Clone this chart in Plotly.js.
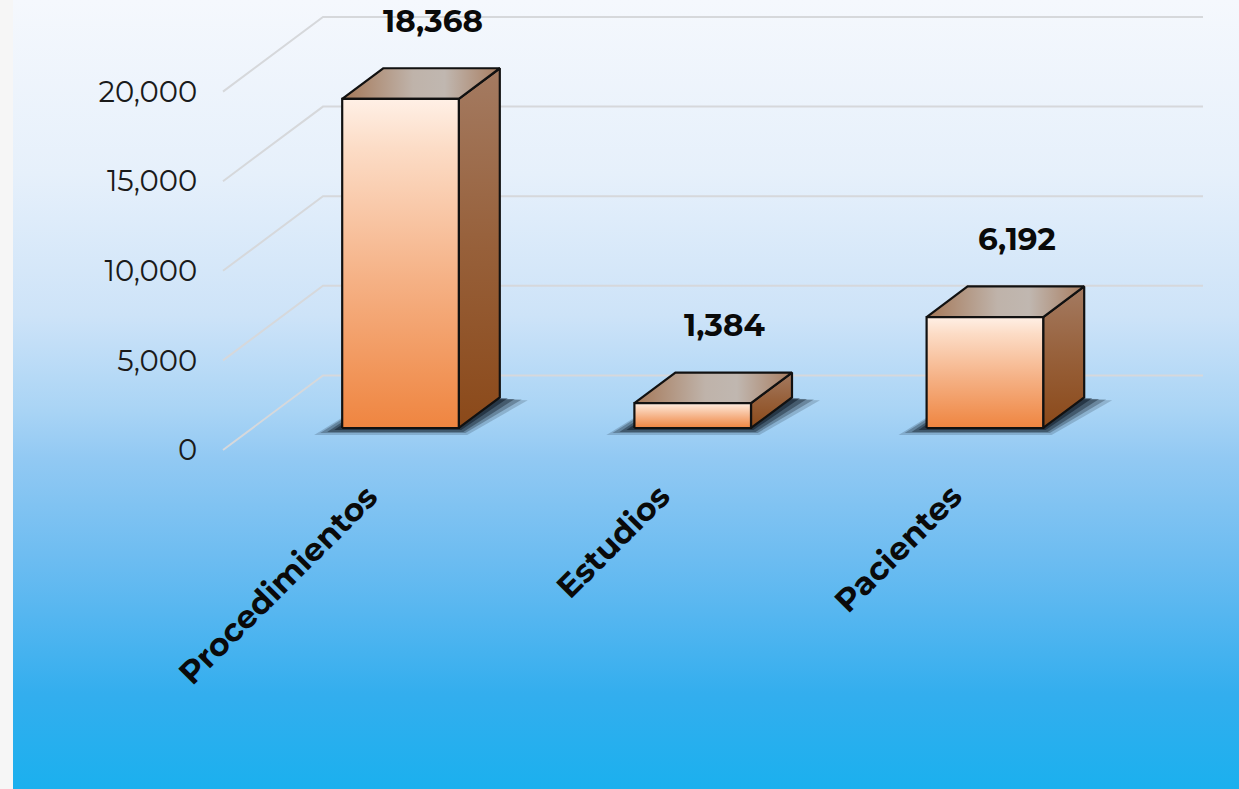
<!DOCTYPE html>
<html>
<head>
<meta charset="utf-8">
<script src="https://cdn.plot.ly/plotly-3.0.1.min.js"></script>
<style>
  html, body { margin:0; padding:0; background:#f6f6f6; width:1239px; height:789px; overflow:hidden; }
  #bg { position:absolute; left:13px; top:0; width:1226px; height:789px;
        background: linear-gradient(to bottom, #f5f8fd 0%, #e6f0fb 22%, #cde3f8 40%, #a9d4f5 52%, #92c9f3 58%, #6fbdf1 70%, #55b6f0 78%, #33aeee 88%, #1bb0ee 100%); }
  #chart { position:absolute; left:0; top:0; width:1239px; height:789px; }
</style>
</head>
<body>
<div id="bg"></div>
<div id="chart"></div>
<script>
// ---- data ----
const categories = ['Procedimientos', 'Estudios', 'Pacientes'];
const values = [18368, 1384, 6192];
const valueLabels = ['18,368', '1,384', '6,192'];
const tickValues = [0, 5000, 10000, 15000, 20000];
const tickLabels = ['0', '5,000', '10,000', '15,000', '20,000'];

// ---- pseudo-3D geometry (in axis units) ----
const W = 1239, H = 789;
const pxPerCat = 292.2;
const x0px = 371;
const pxPer5000 = 89.6;
const zeroPx = 450;
const unitsPerPx = 5000 / pxPer5000;
const xRange = [-x0px / pxPerCat, (W - x0px) / pxPerCat];
const yRange = [-(H - zeroPx) * unitsPerPx, zeroPx * unitsPerPx];
const depthX = 100 / pxPerCat;
const depthY = 74.6 * unitsPerPx;
const f0 = 0.295, f1 = 0.705;
const halfW = 58.3 / pxPerCat;
const gridLeft = (223 - x0px) / pxPerCat;
const gridRight = (1203 - x0px) / pxPerCat;
const FONT = 'Montserrat, "DejaVu Sans", sans-serif';

const traces = [];

const gx = [], gy = [];
tickValues.forEach(v => {
  gx.push(gridLeft, gridLeft + depthX, gridRight, null);
  gy.push(v, v + depthY, v + depthY, null);
});
traces.push({ x: gx, y: gy, mode: 'lines', line: { color: '#d6d8db', width: 2 }, hoverinfo: 'skip', showlegend: false });

const outline = { color: '#111111', width: 2.2 };
const bx = depthX * (f1 - f0), by = depthY * (f1 - f0);

values.forEach((val, i) => {
  const xL = i + depthX * f0 - halfW;
  const xR = i + depthX * f0 + halfW;
  const y0 = depthY * f0;
  const y1 = y0 + val;
  const layers = [[28, 7, 0.18], [22, 5, 0.28], [15, 4, 0.38], [8, 2, 0.5]];
  layers.forEach(([e, s, op]) => {
    const ex = e / pxPerCat, sy = s * unitsPerPx;
    traces.push({
      x: [xL - ex, xR + ex * 0.3, xR + bx + ex, xL + bx - ex * 0.3, xL - ex],
      y: [y0 - sy, y0 - sy, y0 + by - sy * 0.4, y0 + by, y0 - sy],
      mode: 'lines', fill: 'toself', fillcolor: 'rgba(10,20,32,' + op + ')',
      line: { width: 0, color: 'rgba(0,0,0,0)' }, hoverinfo: 'skip', showlegend: false
    });
  });
  traces.push({
    x: [xR, xR + bx, xR + bx, xR, xR], y: [y0, y0 + by, y1 + by, y1, y0],
    mode: 'lines', fill: 'toself',
    fillgradient: { type: 'vertical', colorscale: [[0, '#8b4919'], [0.5, '#97603a'], [1, '#a47b62']] },
    line: outline, hoverinfo: 'skip', showlegend: false
  });
  traces.push({
    x: [xL, xR, xR + bx, xL + bx, xL], y: [y1, y1, y1 + by, y1 + by, y1],
    mode: 'lines', fill: 'toself',
    fillgradient: { type: 'horizontal', colorscale: [[0, '#a57858'], [0.45, '#bfb3aa'], [0.65, '#c0b7b0'], [1, '#a87d60']] },
    line: outline, hoverinfo: 'skip', showlegend: false
  });
  traces.push({
    x: [xL, xR, xR, xL, xL], y: [y0, y0, y1, y1, y0],
    mode: 'lines', fill: 'toself',
    fillgradient: { type: 'vertical', colorscale: [[0, '#ef8540'], [0.45, '#f5b185'], [0.85, '#fcdcc6'], [1, '#fff0e6']] },
    line: outline, hoverinfo: 'skip', showlegend: false
  });
});

const annotations = [];
values.forEach((val, i) => {
  annotations.push({
    x: i + depthX * f0 + 32 / pxPerCat, y: depthY * f0 + val,
    xref: 'x', yref: 'y', text: valueLabels[i], showarrow: false,
    xanchor: 'center', yanchor: 'middle', yshift: 78,
    font: { family: FONT, size: 31, color: '#0a0a0a', weight: 'bold' }
  });
  annotations.push({
    x: i, y: 0, xref: 'x', yref: 'y', text: categories[i], showarrow: false,
    textangle: -45, xanchor: 'right', yanchor: 'top', xshift: 17, yshift: -24,
    font: { family: FONT, size: 32, color: '#0a0a0a', weight: 'bold' }
  });
});

const layout = {
  width: W, height: H, autosize: false,
  margin: { l: 0, r: 0, t: 0, b: 0, pad: 0 },
  paper_bgcolor: 'rgba(0,0,0,0)', plot_bgcolor: 'rgba(0,0,0,0)',
  showlegend: false,
  xaxis: { range: xRange, visible: false, fixedrange: true },
  yaxis: {
    range: yRange, anchor: 'free', position: 223 / W,
    showgrid: false, zeroline: false, showline: false,
    tickmode: 'array', tickvals: tickValues, ticktext: tickLabels,
    ticks: 'outside', ticklen: 20, tickcolor: 'rgba(0,0,0,0)',
    tickfont: { family: FONT, size: 29, color: '#1a1a1a' },
    fixedrange: true
  },
  annotations: annotations
};

Plotly.newPlot('chart', traces, layout, { staticPlot: true, displayModeBar: false });
</script>
</body>
</html>
